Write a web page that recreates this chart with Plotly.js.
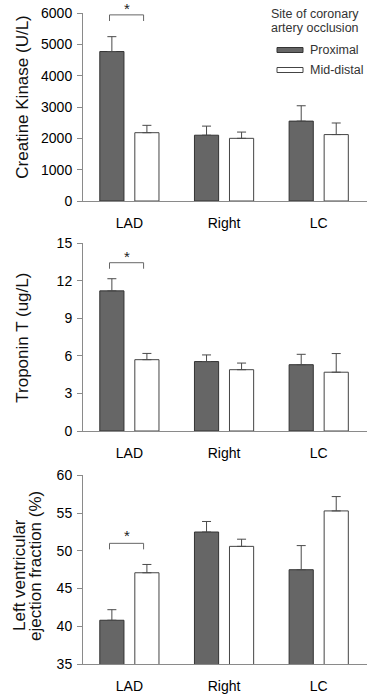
<!DOCTYPE html>
<html>
<head>
<meta charset="utf-8">
<script src="https://cdn.plot.ly/plotly-3.0.1.min.js"></script>
<style>html,body{margin:0;padding:0;background:#fff;}#chart{width:367px;height:697px;}</style>
</head>
<body>
<div id="chart"></div>
<script>
const categories = ['LAD', 'Right', 'LC'];
const seriesNames = ['Proximal', 'Mid-distal'];

const ckProximal = [4770, 2100, 2550];
const ckProximalErr = [475, 290, 490];
const ckMidDistal = [2180, 2000, 2120];
const ckMidDistalErr = [235, 200, 370];

const tnProximal = [11.2, 5.55, 5.3];
const tnProximalErr = [0.97, 0.53, 0.83];
const tnMidDistal = [5.7, 4.9, 4.7];
const tnMidDistalErr = [0.5, 0.53, 1.49];

const lvProximal = [40.8, 52.5, 47.5];
const lvProximalErr = [1.4, 1.4, 3.2];
const lvMidDistal = [47.1, 50.6, 55.3];
const lvMidDistalErr = [1.1, 0.95, 1.9];

const yTitles = ['Creatine Kinase (U/L)', 'Troponin T (ug/L)', ['Left ventricular', 'ejection fraction (%)']];
const legendTitle = ['Site of coronary', 'artery occlusion'];

const FONT = 'Liberation Sans, Arial, sans-serif';
const PROX_FILL = '#666666';
const EDGE = '#333333';
const AXIS = '#8a8a8a';

function barTrace(name, y, err, xa, ya, prox) {
  return {
    type: 'bar', name: name, x: categories, y: y, xaxis: xa, yaxis: ya,
    showlegend: false,
    marker: {color: prox ? PROX_FILL : '#ffffff', line: {color: prox ? EDGE : '#444444', width: 1}},
    error_y: {type: 'data', array: err, arrayminus: err.map(() => 0), symmetric: false,
              color: '#4a4a4a', thickness: 1, width: 4.5},
    hoverinfo: 'none'
  };
}

const data = [
  barTrace(seriesNames[0], ckProximal, ckProximalErr, 'x', 'y', true),
  barTrace(seriesNames[1], ckMidDistal, ckMidDistalErr, 'x', 'y', false),
  barTrace(seriesNames[0], tnProximal, tnProximalErr, 'x2', 'y2', true),
  barTrace(seriesNames[1], tnMidDistal, tnMidDistalErr, 'x2', 'y2', false),
  barTrace(seriesNames[0], lvProximal, lvProximalErr, 'x3', 'y3', true),
  barTrace(seriesNames[1], lvMidDistal, lvMidDistalErr, 'x3', 'y3', false)
];

function xAxis(anchor) {
  return {anchor: anchor, domain: [0, 1], type: 'category', range: [-0.49, 2.51],
          showline: true, linecolor: AXIS, linewidth: 1, ticks: '', showgrid: false, zeroline: false,
          tickfont: {family: FONT, size: 14, color: '#000'}, ticklabelstandoff: 9, fixedrange: true};
}
function yAxis(anchor, domain, range, dtick) {
  return {anchor: anchor, domain: domain, range: range, dtick: dtick, tick0: range[0],
          showline: true, linecolor: AXIS, linewidth: 1, ticks: 'outside', ticklen: 5, tickcolor: AXIS,
          showgrid: false, zeroline: false, tickfont: {family: FONT, size: 14, color: '#000'},
          ticklabelstandoff: 2, fixedrange: true};
}

// pixel helpers for paper coordinates (plot area: x 83..367, y 13..664)
const px = v => (v - 83) / 284;
const py = v => (664 - v) / 651;

const bracketColor = '#666666';
function bracket(xr, yr, yTop, yLeg) {
  return {type: 'path', xref: xr, yref: yr,
          path: `M -0.21,${yLeg} L -0.21,${yTop} L 0.15,${yTop} L 0.15,${yLeg}`,
          line: {color: bracketColor, width: 1}};
}
function star(yPix) {
  return {text: '*', xref: 'paper', yref: 'paper', x: px(126.7), y: py(yPix), showarrow: false,
          font: {family: FONT, size: 15, color: '#222'}, xanchor: 'center', yanchor: 'middle'};
}
function ytitle(text, x, y) {
  return {text: text, xref: 'paper', yref: 'paper', x: x, y: y, showarrow: false, textangle: -90,
          font: {family: FONT, size: 17, color: '#111'}, xanchor: 'center', yanchor: 'middle'};
}
function legText(text, x, y, anchor) {
  return {text: text, xref: 'paper', yref: 'paper', x: x, y: y, showarrow: false,
          font: {family: FONT, size: 12.5, color: '#333'}, xanchor: anchor, yanchor: 'middle'};
}

const layout = {
  width: 367, height: 697,
  margin: {l: 83, r: 0, t: 13, b: 33},
  paper_bgcolor: '#fff', plot_bgcolor: '#fff',
  barmode: 'group', bargap: 0.26, bargroupgap: 0.31,
  showlegend: false,
  xaxis: xAxis('y'), xaxis2: xAxis('y2'), xaxis3: xAxis('y3'),
  yaxis: yAxis('x', [0.7112, 1], [0, 6000], 1000),
  yaxis2: yAxis('x2', [0.3579, 0.6462], [0, 15], 3),
  yaxis3: yAxis('x3', [0, 0.2896], [35, 60], 5),
  shapes: [
    bracket('x', 'y', 5940, 5745),
    bracket('x2', 'y2', 13.45, 12.97),
    bracket('x3', 'y3', 51.0, 50.2),
    {type: 'rect', xref: 'paper', yref: 'paper', x0: px(277), x1: px(303), y0: py(52.5), y1: py(47.5),
     fillcolor: PROX_FILL, line: {color: EDGE, width: 1}},
    {type: 'rect', xref: 'paper', yref: 'paper', x0: px(277), x1: px(303), y0: py(72.5), y1: py(67.5),
     fillcolor: '#ffffff', line: {color: '#444', width: 1}}
  ],
  annotations: [
    star(8),
    star(256),
    star(535),
    ytitle(yTitles[0], px(21.7), py(97)),
    ytitle(yTitles[1], px(21.7), py(338)),
    ytitle(yTitles[2][0], px(19), py(575)),
    ytitle(yTitles[2][1], px(35), py(566)),
    legText(legendTitle[0], px(361), py(14), 'right'),
    legText(legendTitle[1], px(361), py(28), 'right'),
    legText(seriesNames[0], px(308), py(50), 'left'),
    legText(seriesNames[1], px(308), py(70.5), 'left')
  ]
};

Plotly.newPlot('chart', data, layout, {displayModeBar: false, staticPlot: true});
</script>
</body>
</html>
